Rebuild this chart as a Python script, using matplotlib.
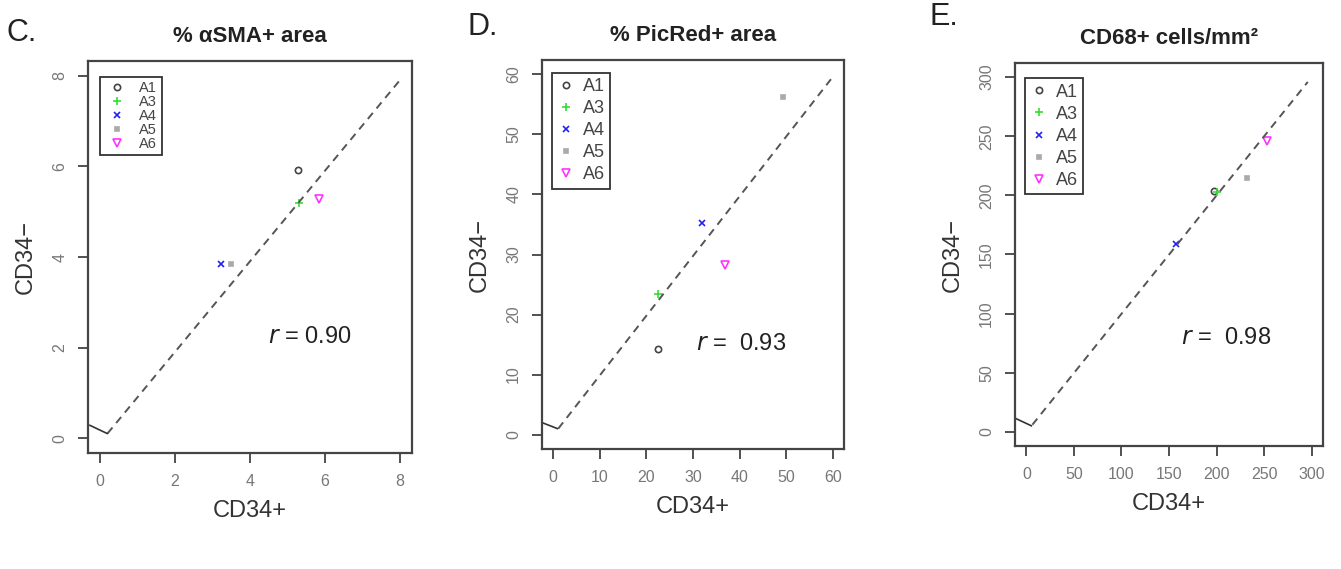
import matplotlib
matplotlib.use("Agg")
import matplotlib.pyplot as plt

plt.rcParams['font.family'] = ['Liberation Sans', 'DejaVu Sans']

groups = ["A1", "A3", "A4", "A5", "A6"]
colors = ["#444444", "#33dd33", "#2222ee", "#aaaaaa", "#ff33ff"]
markers = ["o", "+", "x", "s", "v"]

# panel C: % aSMA+ area
c_x = [5.28, 5.31, 3.23, 3.49, 5.84]
c_y = [5.91, 5.20, 3.84, 3.84, 5.27]
c_fit_x = [0.2, 8.0]
c_fit_y = [0.11, 7.9]
c_seg_x = [-0.27, 0.19]
c_seg_y = [0.29, 0.11]
c_ticks = [0, 2, 4, 6, 8]

# panel D: % PicRed+ area
d_x = [22.4, 22.4, 32.0, 49.4, 36.8]
d_y = [14.3, 23.4, 35.2, 56.2, 28.2]
d_fit_x = [1.1, 59.6]
d_fit_y = [1.0, 59.2]
d_seg_x = [-2.4, 0.9]
d_seg_y = [2.0, 1.0]
d_ticks = [0, 10, 20, 30, 40, 50, 60]

# panel E: CD68+ cells/mm2
e_x = [197, 201, 157, 232, 253]
e_y = [204, 203, 159, 215, 246]
e_fit_x = [6.3, 296]
e_fit_y = [6.0, 296]
e_seg_x = [-10.5, 5.2]
e_seg_y = [11.0, 5.1]
e_ticks = [0, 50, 100, 150, 200, 250, 300]

W, H = 1341, 569


def draw_panel(fig, box, letter, letter_pos, title, xs, ys, fit_x, fit_y,
               seg_x, seg_y, ticks, r_text, r_pos, leg):
    x0, y0, x1, y1 = box
    ax = fig.add_axes([x0 / W, 1 - y1 / H, (x1 - x0) / W, (y1 - y0) / H])
    for i, g in enumerate(groups):
        m = markers[i]
        ax.plot(xs[i], ys[i], linestyle="none", marker=m,
                markersize={"o": 4.5, "+": 6, "x": 5, "s": 3.5, "v": 5.5}[m],
                markeredgewidth=1.2,
                color=colors[i],
                markerfacecolor=colors[i] if m in ("+", "x", "s") else "none",
                label=g)
    ax.plot(fit_x, fit_y, linestyle=(0, (4, 3)), color="#555555", linewidth=1.4)
    ax.plot(seg_x, seg_y, color="#333333", linewidth=1.2)
    span = ticks[-1] - ticks[0]
    ax.set_xlim(ticks[0] - 0.04 * span, ticks[-1] + 0.04 * span)
    ax.set_ylim(ticks[0] - 0.04 * span, ticks[-1] + 0.04 * span)
    ax.set_xticks(ticks)
    ax.set_yticks(ticks)
    ax.tick_params(direction="out", length=7, width=1.2, color="#333333",
                   labelsize=11.5, labelcolor="#777777", pad=8)
    for lab in ax.get_yticklabels():
        lab.set_rotation(90)
        lab.set_va("center")
    for s in ax.spines.values():
        s.set_linewidth(1.6)
        s.set_color("#444444")
    ax.set_xlabel("CD34+", fontsize=17, color="#333333", labelpad=8)
    ax.set_ylabel("CD34\u2212", fontsize=17, color="#333333", labelpad=11)
    ax.set_title(title, fontsize=16, fontweight="bold", color="#222222", pad=14)
    ax.text(r_pos[0], r_pos[1], r_text, fontsize=17, color="#222222",
            ha="center", va="center")
    font, space, hlen, hpad, anchor = leg
    lg = ax.legend(loc="upper left", bbox_to_anchor=anchor,
                   fontsize=font, labelspacing=space, handletextpad=hpad,
                   handlelength=hlen, borderpad=0.3, borderaxespad=0,
                   fancybox=False,
                   edgecolor="#333333", framealpha=1, labelcolor="#444444")
    lg.get_frame().set_linewidth(1.3)
    fig.text(letter_pos[0] / W, 1 - letter_pos[1] / H, letter, fontsize=22,
             color="#222222", ha="left", va="center")
    return ax


def main():
    fig = plt.figure(figsize=(W / 100, H / 100), dpi=100)
    draw_panel(fig, (88, 61, 412, 453), "C.", (6, 33), "% \u03b1SMA+ area",
               c_x, c_y, c_fit_x, c_fit_y, c_seg_x, c_seg_y, c_ticks,
               r"$r$ = 0.90", (5.6, 2.24), (10.5, 0.0, 1.8, 0.6, (0.037, 0.96)))
    draw_panel(fig, (542, 60, 844, 449), "D.", (468, 27), "% PicRed+ area",
               d_x, d_y, d_fit_x, d_fit_y, d_seg_x, d_seg_y, d_ticks,
               r"$r$ =  0.93", (40.4, 15.1), (13, 0.28, 1.0, 0.4, (0.033, 0.967)))
    draw_panel(fig, (1015, 63, 1323, 446), "E.", (930, 17), "CD68+ cells/mm\u00b2",
               e_x, e_y, e_fit_x, e_fit_y, e_seg_x, e_seg_y, e_ticks,
               r"$r$ =  0.98", (210, 79), (13, 0.28, 1.0, 0.4, (0.032, 0.96)))
    fig.savefig("out.png", dpi=100)


if __name__ == "__main__":
    main()
